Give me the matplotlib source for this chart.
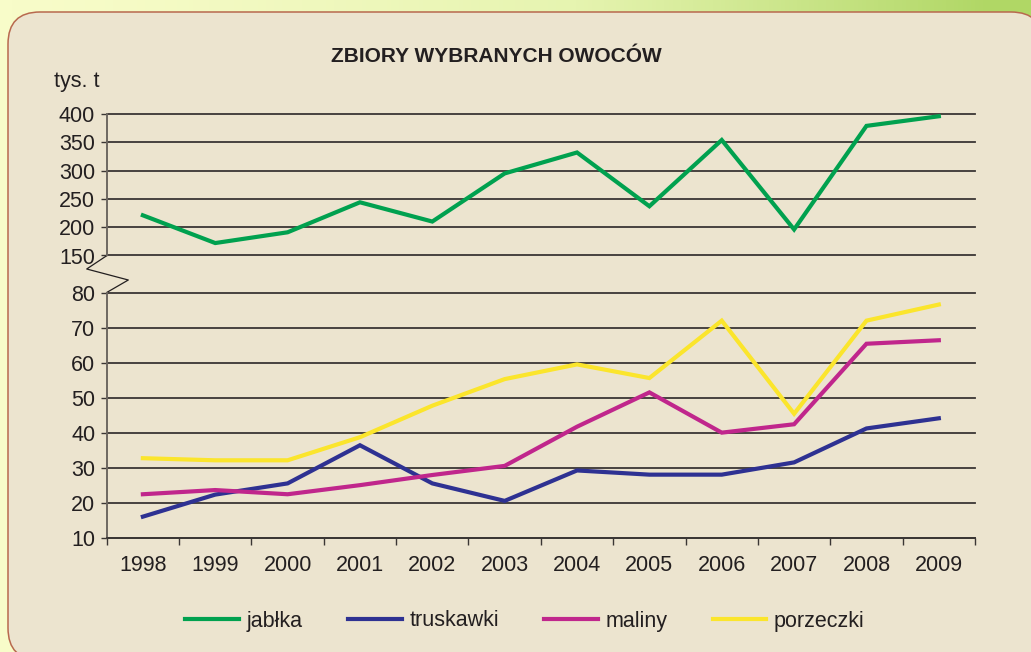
import matplotlib
matplotlib.use('Agg')
import matplotlib.pyplot as plt
import numpy as np
from matplotlib.patches import FancyBboxPatch
from matplotlib.lines import Line2D
from matplotlib.colors import LinearSegmentedColormap

plt.rcParams['font.family'] = ['Liberation Sans', 'DejaVu Sans']

# ---- data ----
years = ['1998', '1999', '2000', '2001', '2002', '2003', '2004', '2005',
         '2006', '2007', '2008', '2009']
jablka = [221, 172, 191, 244, 210, 295, 332, 237, 354, 196, 379, 396]
truskawki = [16.1, 22.4, 25.6, 36.5, 25.6, 20.6, 29.3, 28.1, 28.1, 31.6, 41.3, 44.2]
maliny = [22.5, 23.7, 22.5, 25.1, 28.0, 30.6, 41.8, 51.6, 40.1, 42.5, 65.5, 66.5]
porzeczki = [32.8, 32.2, 32.2, 38.8, 47.8, 55.4, 59.6, 55.7, 72.1, 45.5, 72.1, 76.7]
series_labels = ['jabłka', 'truskawki', 'maliny', 'porzeczki']
top_ticks = [150, 200, 250, 300, 350, 400]
bot_ticks = [10, 20, 30, 40, 50, 60, 70, 80]
title = 'ZBIORY WYBRANYCH OWOCÓW'
unit = 'tys. t'

# ---- style ----
C_GREEN = '#00a14f'
C_BLUE = '#2e3192'
C_MAG = '#c0268c'
C_YEL = '#fbe52c'
TXT = '#231f20'
GRID = '#3a3634'
PANEL = '#ece4cf'
FS = 15.5

W, H = 1031, 652
fig = plt.figure(figsize=(W / 100, H / 100), dpi=100)

# background gradient + panel, in pixel coordinates
bg = fig.add_axes([0, 0, 1, 1], zorder=-10)
bg.set_xlim(0, W)
bg.set_ylim(H, 0)
bg.axis('off')
gx = np.linspace(0, 1, 256)
gy = np.linspace(0, 1, 64)
GX, GY = np.meshgrid(gx, gy)
grad = np.clip(GX ** 1.3 * 0.95 + (1 - GY) * 0.1 * GX, 0, 1)
cmap = LinearSegmentedColormap.from_list('g', ['#f8fcc9', '#e6f4b0', '#b0d765'])
bg.imshow(grad, cmap=cmap, extent=(0, W, H, 0), aspect='auto', zorder=0)
panel = FancyBboxPatch((8, 12), 1043 - 8, 660 - 12,
                       boxstyle='round,pad=0,rounding_size=32',
                       facecolor=PANEL, edgecolor='#b8694e', linewidth=1.1, zorder=1)
bg.add_patch(panel)
# axis-break zigzag
bg.add_line(Line2D([106.7, 86.7, 128.3, 106.7], [255.7, 269, 280, 292.5],
                   color=TXT, linewidth=0.9, zorder=2))

fig.text(496 / W, 1 - 57 / H, title, ha='center', va='center',
         fontsize=15, fontweight='bold', color=TXT)
fig.text(54.5 / W, 1 - 81 / H, unit, ha='left', va='center', fontsize=FS, color=TXT)

L = 106.7 / W
Wd = 868.3 / W
ax_top = fig.add_axes([L, 1 - 255.5 / H, Wd, 141.5 / H])
ax_bot = fig.add_axes([L, 1 - 538 / H, Wd, 245 / H])

x = np.arange(len(years))
for ax in (ax_top, ax_bot):
    ax.set_facecolor('none')
    ax.set_xlim(-0.5, len(years) - 0.5)
    for s in ('top', 'right'):
        ax.spines[s].set_visible(False)
    ax.spines['left'].set_color('#6e6862')
    ax.spines['left'].set_linewidth(1.4)
    ax.tick_params(axis='y', length=4.3, width=1, color=GRID, pad=4.0,
                   labelsize=FS, labelcolor=TXT)
    ax.yaxis.grid(True, color=GRID, linewidth=1.3)
    ax.set_axisbelow(True)

ax_top.set_ylim(150, 400)
ax_top.set_yticks(top_ticks)
ax_top.spines['bottom'].set_visible(False)
ax_top.set_xticks([])
for gl in ax_top.get_ygridlines():
    gl.set_clip_on(False)

ax_bot.set_ylim(10, 80)
ax_bot.set_yticks(bot_ticks)
for gl in ax_bot.get_ygridlines():
    gl.set_clip_on(False)
ax_bot.spines['bottom'].set_color(GRID)
ax_bot.spines['bottom'].set_linewidth(1.3)
ax_bot.set_xticks(x)
ax_bot.set_xticklabels(years)
ax_bot.set_xticks(np.arange(-0.5, len(years), 1), minor=True)
ax_bot.tick_params(axis='x', which='major', length=0, pad=12, labelsize=FS,
                   labelcolor=TXT)
ax_bot.tick_params(axis='x', which='minor', length=5.2, width=1, color=GRID,
                   direction='out')

lw = 3.0
h1, = ax_top.plot(x, jablka, color=C_GREEN, lw=lw, solid_joinstyle='miter',
                  label=series_labels[0], clip_on=False)
h2, = ax_bot.plot(x, truskawki, color=C_BLUE, lw=lw, solid_joinstyle='miter',
                  label=series_labels[1])
h3, = ax_bot.plot(x, maliny, color=C_MAG, lw=lw, solid_joinstyle='miter',
                  label=series_labels[2])
h4, = ax_bot.plot(x, porzeczki, color=C_YEL, lw=lw, solid_joinstyle='miter',
                  label=series_labels[3])

fig.legend([h1, h2, h3, h4], series_labels, loc='center',
           bbox_to_anchor=(525 / W, 1 - 621 / H), ncol=4, frameon=False,
           fontsize=FS, handlelength=2.5, handletextpad=0.35, columnspacing=2.1,
           labelcolor=TXT)

fig.savefig('out.png', dpi=100)
